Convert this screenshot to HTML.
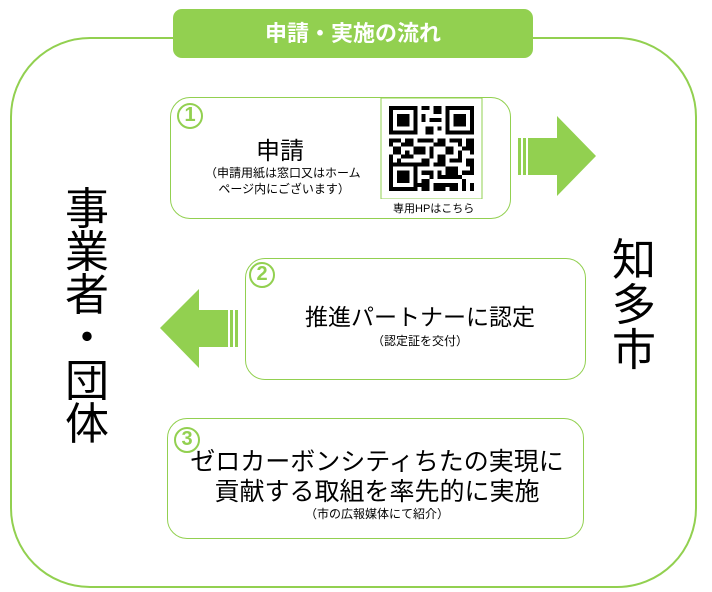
<!DOCTYPE html>
<html><head><meta charset="utf-8"><style>
body{margin:0;width:712px;height:592px;background:#fff;position:relative;overflow:hidden;font-family:"Liberation Sans","Noto Sans CJK JP",sans-serif;color:#000}
.a{position:absolute}
.box{position:absolute;border:1.5px solid #92d050;border-radius:20px;box-sizing:border-box}
.num{position:absolute;width:26px;height:26px;border:2.5px solid #92d050;border-radius:50%;color:#92d050;font-size:20px;font-weight:bold;text-align:center;box-sizing:border-box;line-height:21px}
.c{text-align:center;white-space:nowrap}
</style></head><body>
<div class="a" style="left:10px;top:37px;width:687px;height:551px;border:2px solid #92d050;border-radius:80px;box-sizing:border-box"></div>
<div class="a c" style="left:173px;top:9px;width:360px;height:49px;background:#92d050;border-radius:9px;color:#fff;font-size:22px;font-weight:bold;line-height:49px">申請・実施の流れ</div>

<div class="box" style="left:170px;top:97px;width:341px;height:122px"></div>
<div class="num" style="left:177px;top:103px">1</div>
<div class="a c" style="left:200px;top:138px;width:160px;font-size:24px;line-height:28px">申請</div>
<div class="a" style="left:205px;top:165px;font-size:12px;line-height:16px;white-space:nowrap">（申請用紙は窓口又はホーム<br>&nbsp;&nbsp;&nbsp;&nbsp;ページ内にございます）</div>
<svg class="a" style="left:377px;top:98px" width="109" height="101" viewBox="0 0 25 25" shape-rendering="crispEdges">
<rect x="0" y="0" width="25" height="25" fill="#fff" stroke="#92d050" stroke-width="0.2"/>
<g fill="#000">
<rect x="2" y="2" width="7" height="7"/><rect x="3" y="3" width="5" height="5" fill="#fff"/><rect x="4" y="4" width="3" height="3"/>
<rect x="16" y="2" width="7" height="7"/><rect x="17" y="3" width="5" height="5" fill="#fff"/><rect x="18" y="4" width="3" height="3"/>
<rect x="2" y="16" width="7" height="7"/><rect x="3" y="17" width="5" height="5" fill="#fff"/><rect x="4" y="18" width="3" height="3"/>
<path d="M10 2h2v1h-2zM13 2h2v2h-2zM10 4h1v2h-1zM12 5h3v1h-3zM11 7h2v2h-2zM14 7h1v1h-1zM2 10h3v1h-3zM6 10h2v2h-2zM9 10h4v1h-4zM14 10h2v2h-2zM17 10h3v1h-3zM21 10h2v3h-2zM3 12h2v2h-2zM8 12h3v2h-3zM12 12h1v3h-1zM16 12h2v2h-2zM19 13h1v2h-1zM2 14h1v2h-1zM5 14h3v1h-3zM10 15h2v2h-2zM14 14h2v3h-2zM17 15h3v1h-3zM21 15h2v2h-2zM10 18h3v1h-3zM14 18h1v2h-1zM16 17h3v3h-3zM17 18h1v1h-1zM20 18h3v1h-3zM10 20h2v3h-2zM13 21h3v2h-3zM17 21h2v2h-2zM20 20h1v3h-1zM22 21h1v2h-1zM2 11h1v1h-1zM5 11h1v1h-1zM9 12h1v1h-1zM13 11h1v1h-1zM19 11h1v1h-1zM6 13h1v1h-1zM4 15h1v1h-1zM13 16h1v1h-1zM12 19h1v1h-1zM15 19h1v1h-1zM19 19h1v1h-1zM16 21h1v1h-1zM11 10h1v1h-1zM20 12h1v1h-1zM22 13h1v1h-1zM9 16h1v1h-1zM22 17h1v1h-1zM9 21h1v1h-1z"/>
</g></svg>
<div class="a" style="left:393px;top:200px;font-size:11px;white-space:nowrap">専用HPはこちら</div>

<svg class="a" style="left:518px;top:116px" width="78" height="80"><g fill="#92d050"><rect x="0" y="22" width="3" height="37"/><rect x="5" y="22" width="3" height="37"/><rect x="10" y="22" width="29" height="37"/><polygon points="39,0 78,40 39,80"/></g></svg>

<div class="box" style="left:245px;top:258px;width:341px;height:122px"></div>
<div class="num" style="left:249px;top:262px">2</div>
<div class="a c" style="left:245px;top:303px;width:350px;font-size:23px;line-height:28px">推進パートナーに認定</div>
<div class="a c" style="left:245px;top:332px;width:350px;font-size:12px">（認定証を交付）</div>

<svg class="a" style="left:160px;top:289px" width="78" height="79"><g fill="#92d050"><polygon points="0,39 39,0 39,79"/><rect x="39" y="21" width="29" height="37"/><rect x="70" y="21" width="3" height="37"/><rect x="75" y="21" width="3" height="37"/></g></svg>

<div class="box" style="left:167px;top:418px;width:417px;height:121px"></div>
<div class="num" style="left:174px;top:427px">3</div>
<div class="a c" style="left:167px;top:447px;width:420px;font-size:25px;line-height:30px">ゼロカーボンシティちたの実現に<br>貢献する取組を率先的に実施</div>
<div class="a c" style="left:167px;top:505px;width:420px;font-size:12px">（市の広報媒体にて紹介）</div>

<div class="a" style="left:62px;top:188px;width:50px;font-size:44px;line-height:43px;text-align:center">事<br>業<br>者<br>・<br>団<br>体</div>
<div class="a" style="left:609px;top:238px;width:50px;font-size:44px;line-height:45px;text-align:center">知<br>多<br>市</div>
</body></html>
